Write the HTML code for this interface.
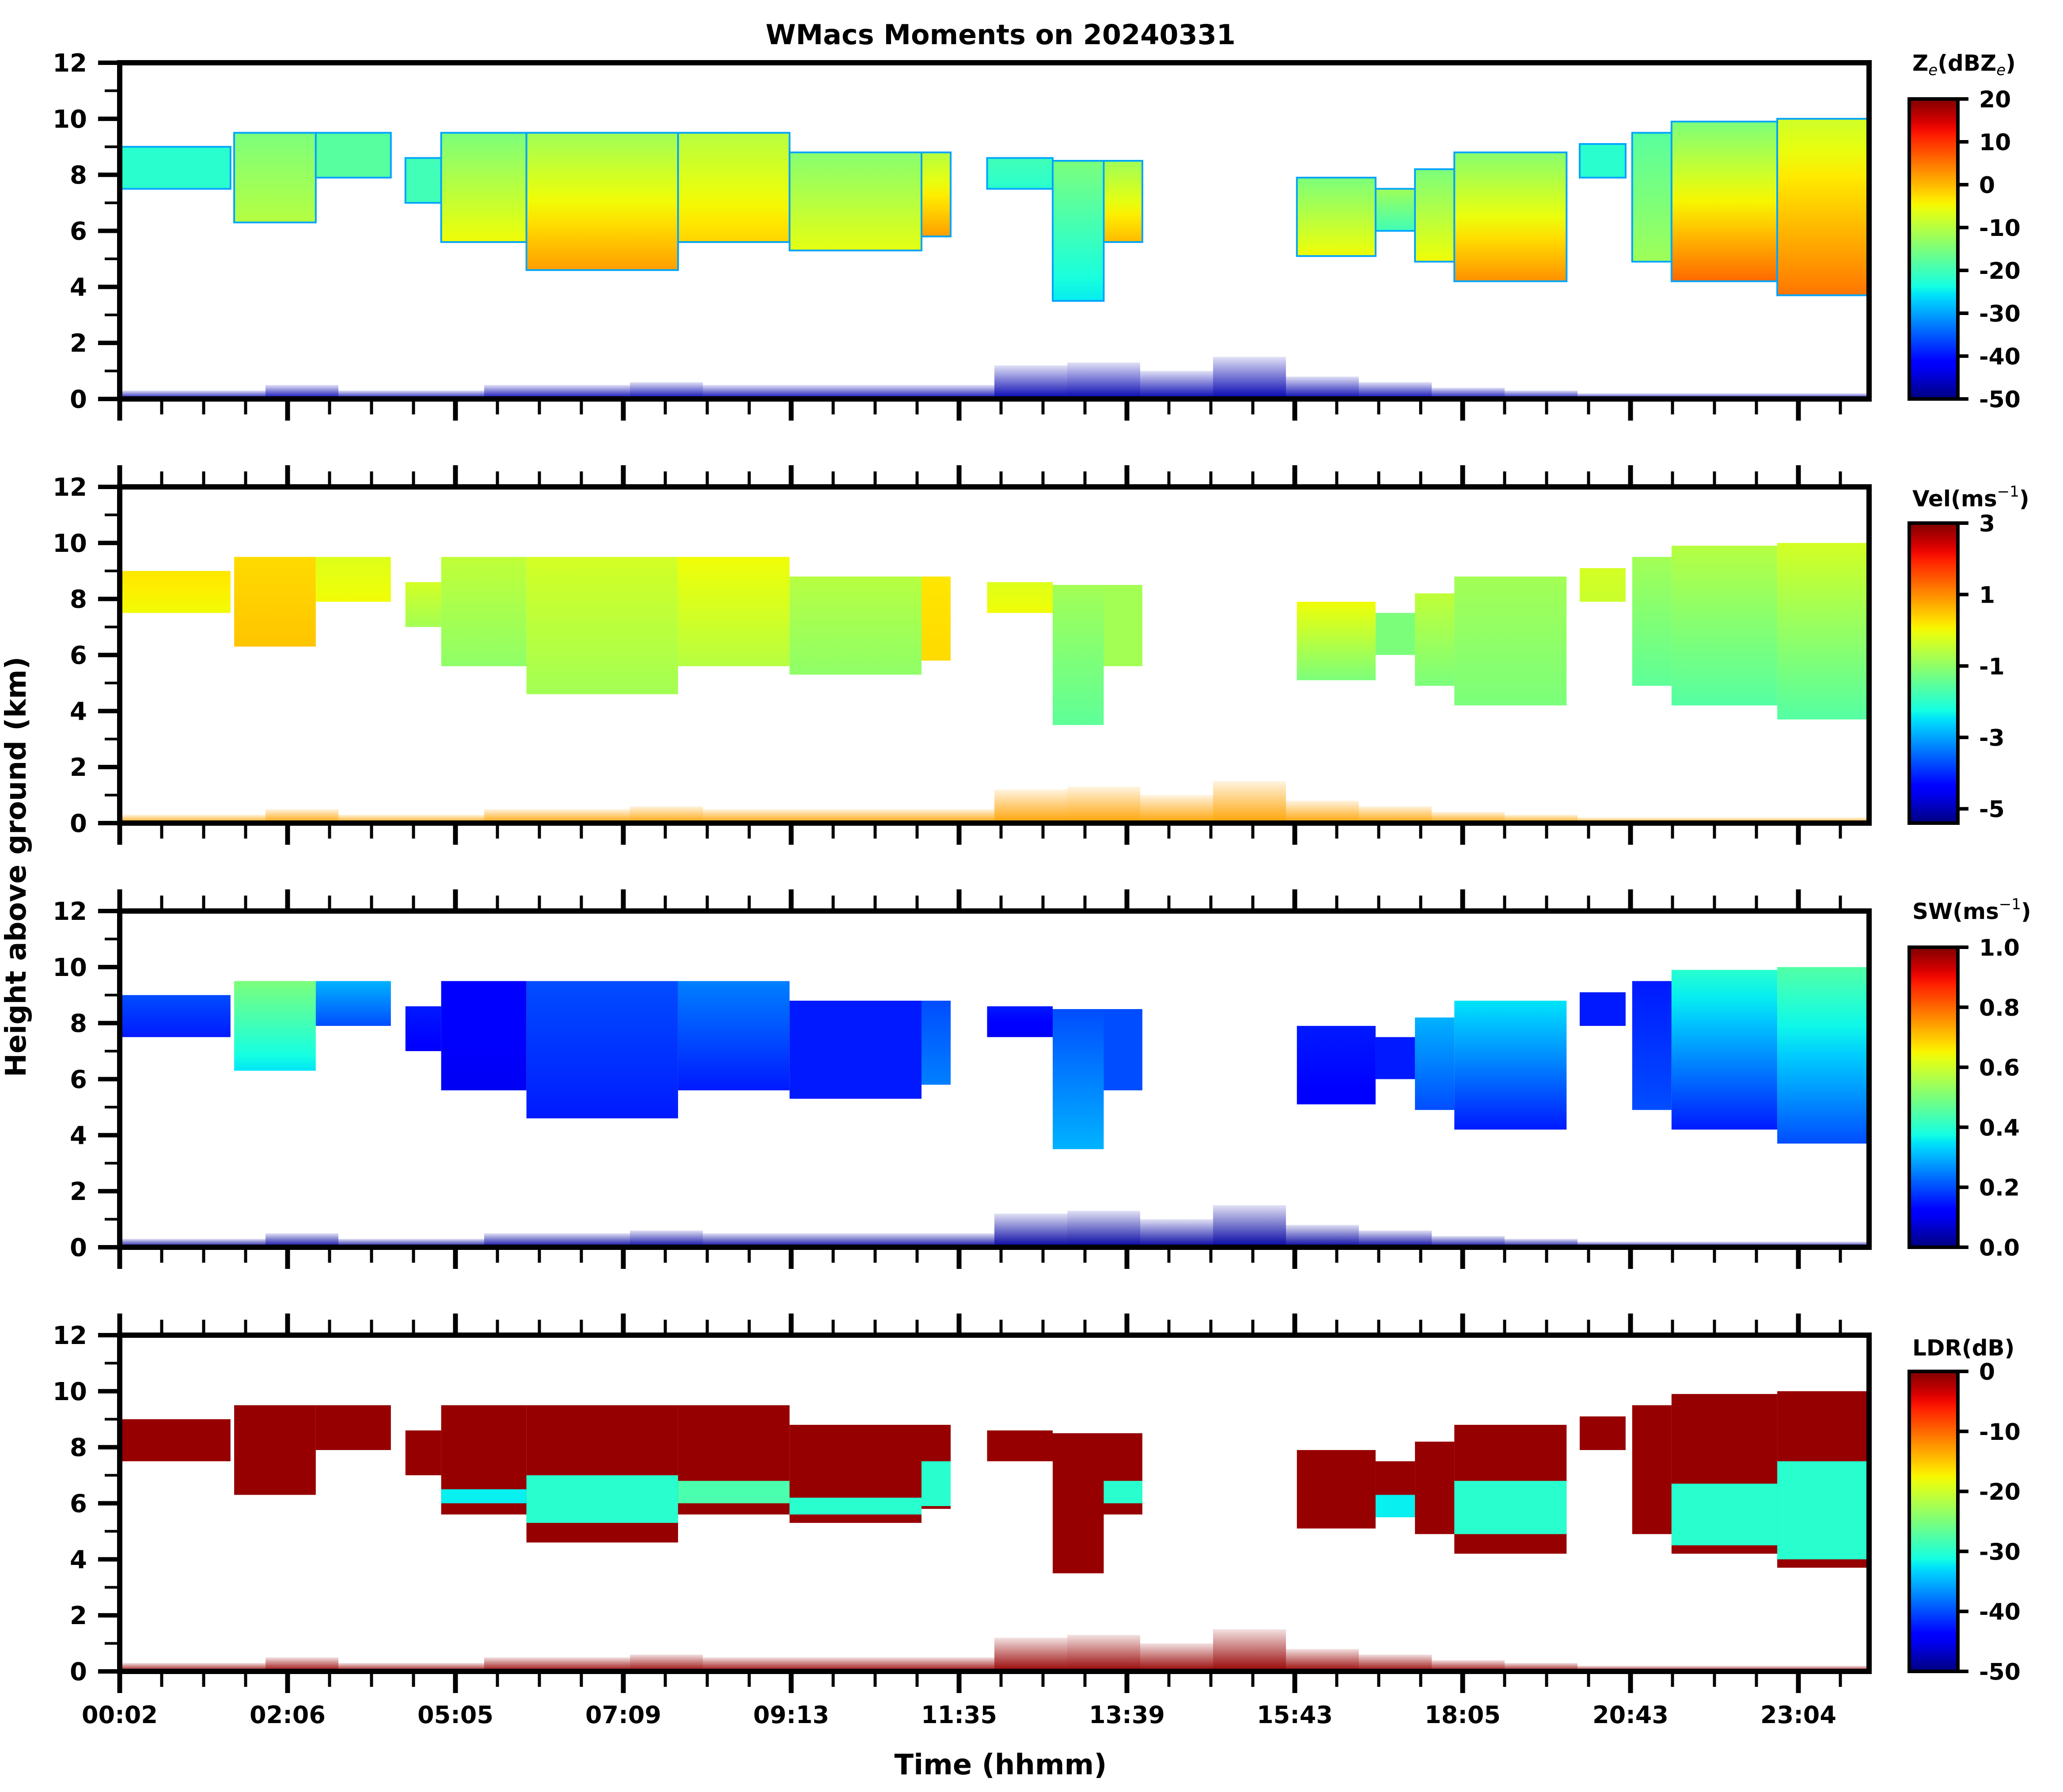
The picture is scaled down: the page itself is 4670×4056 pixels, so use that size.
<!DOCTYPE html>
<html><head><meta charset="utf-8"><style>
html,body{margin:0;padding:0;background:#fff;}
svg{display:block;font-family:"DejaVu Sans","Liberation Sans",sans-serif;font-weight:bold;}
</style></head>
<body>
<svg id="fig" xmlns="http://www.w3.org/2000/svg" width="4670" height="4056" viewBox="0 0 4670 4056">
<defs id="defs"></defs>
<text x="2265" y="100" font-size="62" text-anchor="middle">WMacs Moments on 20240331</text>
<text transform="translate(58,1962) rotate(-90)" font-size="64" text-anchor="middle">Height above ground (km)</text>
<text x="2265" y="4016" font-size="64" text-anchor="middle">Time (hhmm)</text>
</svg>
<script>
// ---- data (hours of day, km, moment values) ----
const segStart=[0,1.57,2.69,3.92,4.41,5.58,7.66,9.19,11.0,11.9,12.8,13.5,16.15,17.23,17.77,18.31,20.03,20.75,21.29,22.74];
const segEnd=[1.52,2.69,3.72,4.41,5.58,7.66,9.19,11.0,11.4,12.8,13.5,14.03,17.23,17.77,18.31,19.85,20.66,21.29,22.74,24];
const segTop=[9.0,9.5,9.5,8.6,9.5,9.5,9.5,8.8,8.8,8.6,8.5,8.5,7.9,7.5,8.2,8.8,9.1,9.5,9.9,10.0];
const segBase=[7.5,6.3,7.9,7.0,5.6,4.6,5.6,5.3,5.8,7.5,3.5,5.6,5.1,6.0,4.9,4.2,7.9,4.9,4.2,3.7];
const zeTop=[-22,-15,-18,-20,-15,-12,-10,-14,-10,-20,-15,-12,-15,-12,-15,-14,-22,-18,-15,-8];
const zeBot=[-22,-10,-18,-20,-5,2,-2,-6,2,-22,-25,0,-5,-20,-5,3,-22,-12,6,5];
const velTop=[0.2,0.3,-0.2,-0.3,-0.5,-0.3,0,-0.6,0.2,-0.2,-0.8,-0.8,0,-1.2,-0.5,-0.8,-0.3,-0.8,-0.6,-0.3];
const velBot=[0,0.5,0,-0.8,-1.0,-0.8,-0.6,-1.0,0.3,0,-1.5,-0.8,-1.2,-1.2,-1.2,-1.2,-0.4,-1.5,-1.6,-1.6];
const swTop=[0.2,0.5,0.3,0.15,0.12,0.2,0.25,0.15,0.2,0.15,0.2,0.2,0.15,0.15,0.3,0.35,0.15,0.15,0.4,0.45];
const swBot=[0.15,0.35,0.2,0.12,0.1,0.15,0.15,0.15,0.25,0.1,0.3,0.2,0.12,0.15,0.2,0.15,0.15,0.2,0.15,0.2];
const ldrOuter=[-1,-1,-1,-1,-1,-1,-1,-1,-1,-1,-1,-1,-1,-1,-1,-1,-1,-1,-1,-1];
const ldrInTop=[null,null,null,null,6.5,7.0,6.8,6.2,7.5,null,null,6.8,null,6.3,null,6.8,null,null,6.7,7.5];
const ldrInBot=[null,null,null,null,6.0,5.3,6.0,5.6,5.9,null,null,6.0,null,5.5,null,4.9,null,null,4.5,4.0];
const ldrInVal=[null,null,null,null,-32,-30,-28,-30,-30,null,null,-30,null,-32,null,-30,null,null,-30,-30];
const clutterTop=[0.3,0.3,0.5,0.3,0.3,0.5,0.5,0.6,0.5,0.5,0.5,0.5,1.2,1.3,1.0,1.5,0.8,0.6,0.4,0.3,0.2,0.2,0.2,0.2];
const clutterVal={ze:-47,vel:0.8,sw:0.03,ldr:-1};
const xTickLabels=["00:02","02:06","05:05","07:09","09:13","11:35","13:39","15:43","18:05","20:43","23:04"];
const yTickLabels=["0","2","4","6","8","10","12"];
const zeTicks=[20,10,0,-10,-20,-30,-40,-50];
const velTicks=[3,1,-1,-3,-5];
const swTicks=["1.0","0.8","0.6","0.4","0.2","0.0"];
const ldrTicks=[0,-10,-20,-30,-40,-50];

// ---- layout ----
const NS="http://www.w3.org/2000/svg";
const svg=document.getElementById('fig');
const defs=document.getElementById('defs');
const X0=271,X1=4231,PH=761;
const tops=[142,1102,2062,3022];
function xS(h){return X0+h/24*(X1-X0);}
function yS(km,p){return tops[p]+PH-km/12*PH;}
function jet(t){t=Math.max(0,Math.min(1,t));
 function pw(pts){for(let i=1;i<pts.length;i++){if(t<=pts[i][0]){const a=pts[i-1],b=pts[i];return a[1]+(b[1]-a[1])*(t-a[0])/(b[0]-a[0]);}}return pts[pts.length-1][1];}
 const r=pw([[0,0],[0.35,0],[0.66,1],[0.89,1],[1,0.5]]);
 const g=pw([[0,0],[0.125,0],[0.375,1],[0.64,1],[0.91,0],[1,0]]);
 const b=pw([[0,0.5],[0.11,1],[0.34,1],[0.65,0],[1,0]]);
 return 'rgb('+Math.round(r*255)+','+Math.round(g*255)+','+Math.round(b*255)+')';}
const moments=[
 {key:'ze',min:-50,max:20,top:zeTop,bot:zeBot,ticks:zeTicks,title:'ze'},
 {key:'vel',min:-5.4,max:3,top:velTop,bot:velBot,ticks:velTicks,title:'Vel(ms'},
 {key:'sw',min:0,max:1,top:swTop,bot:swBot,ticks:swTicks,title:'SW(ms'},
 {key:'ldr',min:-50,max:0,top:ldrOuter,bot:ldrOuter,ticks:ldrTicks,title:'LDR(dB)'}];
let gid=0;
function norm(m,v){return (v-m.min)/(m.max-m.min);}
function grad(m,v1,v2,o1,o2){
 const id='g'+(gid++);
 const lg=document.createElementNS(NS,'linearGradient');
 lg.setAttribute('id',id);lg.setAttribute('x1','0');lg.setAttribute('y1','0');lg.setAttribute('x2','0');lg.setAttribute('y2','1');
 for(let i=0;i<=6;i++){const f=i/6;const s=document.createElementNS(NS,'stop');
  s.setAttribute('offset',f);s.setAttribute('stop-color',jet(norm(m,v1+(v2-v1)*f)));
  s.setAttribute('stop-opacity',o1+(o2-o1)*f);lg.appendChild(s);}
 defs.appendChild(lg);return 'url(#'+id+')';}
function el(tag,attrs,parent){const e=document.createElementNS(NS,tag);for(const k in attrs)e.setAttribute(k,attrs[k]);(parent||svg).appendChild(e);return e;}

moments.forEach((m,p)=>{
 const g=el('g',{});
 
 
 clutterTop.forEach((c,i)=>{
  const r=el('rect',{x:xS(i),y:yS(c,p),width:xS(i+1)-xS(i),height:yS(0,p)-yS(c,p),fill:grad(m,clutterVal[m.key],clutterVal[m.key],0.12,1)},g);
  
  
 });
 segStart.forEach((s,i)=>{
  const x=xS(s),w=xS(segEnd[i])-x,y=yS(segTop[i],p),h=yS(segBase[i],p)-y;
  const r=el('rect',{x:x,y:y,width:w,height:h,fill:grad(m,m.top[i],m.bot[i],1,1)},g);
  if(m.key==='ze'){r.setAttribute('stroke',jet(norm(m,-30)));r.setAttribute('stroke-width','4');}
  
  
  if(m.key==='ldr'&&ldrInTop[i]!==null){
   const yi=yS(ldrInTop[i],p),hi=yS(ldrInBot[i],p)-yi;
   const r2=el('rect',{x:x,y:yi,width:w,height:hi,fill:jet(norm(m,ldrInVal[i]))},g);
   
   
  }
 });
 const T=tops[p],B=T+PH;
 for(let k=0;k<=12;k++){
  const yy=yS(k,p),major=k%2===0;
  const t=el('line',{x1:major?222:237,x2:X0,y1:yy,y2:yy,stroke:'#000','stroke-width':major?10:6});
  
  
  if(major){const lb=el('text',{x:197,y:yy+20,'font-size':56,'text-anchor':'end'});lb.textContent=yTickLabels[k/2];
   
   }
 }
 for(let k=0;k*95+X0<=X1-20;k++){
  const xx=X0+k*95,major=k%4===0,L=major?49:35,sw=major?11:7;
  const b=el('line',{x1:xx,x2:xx,y1:B,y2:B+L,stroke:'#000','stroke-width':sw});
  
  
  if(p>0){const tt=el('line',{x1:xx,x2:xx,y1:T,y2:T-L,stroke:'#000','stroke-width':sw});
   
   }
  if(p===3&&major){const lb=el('text',{x:xx,y:3900,'font-size':54,'text-anchor':'middle'});lb.textContent=xTickLabels[k/4];
   
   }
 }
 const fr=el('rect',{x:X0,y:T,width:X1-X0,height:PH,fill:'none',stroke:'#000','stroke-width':12});
 
 
 const cT=T+82,cB=B,cx=4322,cw=110;
 const cg=el('g',{});
 
 
 const lg=el('linearGradient',{id:'cb'+p,x1:0,y1:1,x2:0,y2:0},defs);
 for(let i=0;i<=40;i++){el('stop',{offset:i/40,'stop-color':jet(i/40)},lg);}
 el('rect',{x:cx,y:cT,width:cw,height:cB-cT,fill:'url(#cb'+p+')',stroke:'#000','stroke-width':8},cg);
 m.ticks.forEach(tv=>{
  const v=parseFloat(tv);const yy=cB-(v-m.min)/(m.max-m.min)*(cB-cT);
  const tk=el('line',{x1:cx+cw,x2:cx+cw+24,y1:yy,y2:yy,stroke:'#000','stroke-width':8},cg);
  
  
  const lb=el('text',{x:4480,y:yy+19,'font-size':52},cg);lb.textContent=String(tv);
  
  
 });
 const baseY=[160,1146,2080,3068][p];
 const tl=el('text',{x:4329,y:baseY,'font-size':50},cg);
 
 
 if(m.key==='ze'){tl.innerHTML='Z<tspan font-size="34" font-style="italic" font-weight="normal" dy="10">e</tspan><tspan dy="-10">(dBZ</tspan><tspan font-size="34" font-style="italic" font-weight="normal" dy="10">e</tspan><tspan dy="-10">)</tspan>';}
 else if(m.key==='ldr'){tl.textContent='LDR(dB)';}
 else{tl.innerHTML=m.title+'<tspan font-size="34" font-weight="normal" dy="-22">−1</tspan><tspan dy="22">)</tspan>';}
});
</script>
</body></html>
